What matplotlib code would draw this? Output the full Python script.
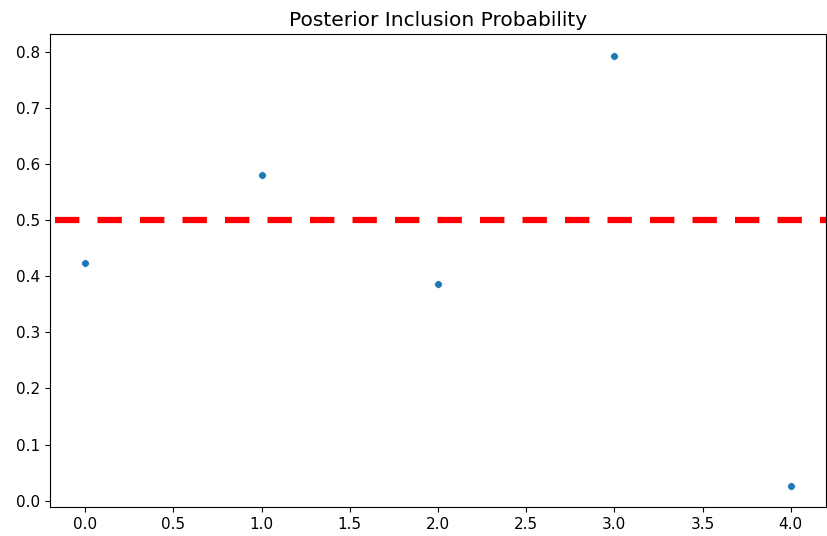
import matplotlib
matplotlib.use("Agg")
import matplotlib.pyplot as plt
import seaborn as sns

features = [0, 1, 2, 3, 4]
pip = [0.423, 0.580, 0.386, 0.793, 0.027]
threshold = 0.5

fig = plt.figure(figsize=(8.27, 5.36), dpi=100)
ax = fig.add_axes([50 / 827, 29 / 536, 776 / 827, 473 / 536])

sns.scatterplot(x=features, y=pip, ax=ax, s=30)
ax.axhline(threshold, color="red", linestyle=(-0.8, (3.9, 2.9)), linewidth=4.5)
ax.set_title("Posterior Inclusion Probability", fontsize=14.5)
ax.tick_params(labelsize=11)

fig.savefig("out.png", dpi=100)
